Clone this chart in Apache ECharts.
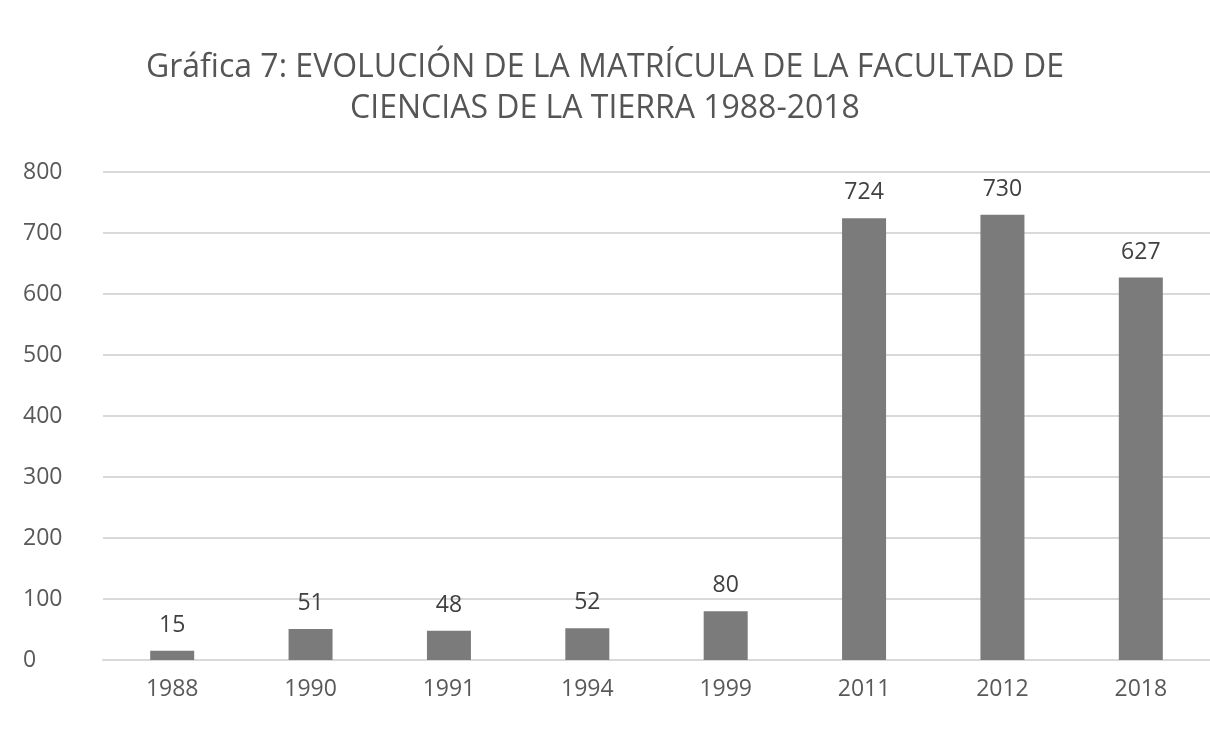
<!DOCTYPE html>
<html>
<head>
<meta charset="utf-8">
<script src="https://cdn.jsdelivr.net/npm/echarts@6/dist/echarts.min.js"></script>
<style>
  html, body { margin: 0; padding: 0; background: #fff; }
  #chart { width: 1210px; height: 731px; }
</style>
</head>
<body>
<div id="chart"></div>
<script>
// Matrícula por año
const years = ['1988', '1990', '1991', '1994', '1999', '2011', '2012', '2018']
const enrollment = [15, 51, 48, 52, 80, 724, 730, 627]
const yTicks = { min: 0, max: 800, interval: 100 }

const chart = echarts.init(document.getElementById('chart'))
const font = '"Liberation Sans Narrow", "Open Sans", sans-serif'

chart.setOption({
  animation: false,
  title: {
    text: 'Gráfica 7: EVOLUCIÓN DE LA MATRÍCULA DE LA FACULTAD DE\nCIENCIAS DE LA TIERRA 1988-2018',
    left: 'center',
    top: 42,
    textStyle: {
      fontFamily: font,
      fontSize: 32,
      fontWeight: 'normal',
      color: '#555555',
      lineHeight: 41
    }
  },
  grid: {
    left: 103,
    width: 1108,
    top: 172,
    bottom: 71
  },
  xAxis: {
    type: 'category',
    data: years,
    axisLine: { lineStyle: { color: '#d9d9d9', width: 2 } },
    axisTick: { show: false },
    axisLabel: {
      fontFamily: font,
      fontSize: 23,
      color: '#595959',
      margin: 18
    }
  },
  yAxis: {
    type: 'value',
    min: yTicks.min,
    max: yTicks.max,
    interval: yTicks.interval,
    axisLine: { show: false },
    axisTick: { show: false },
    splitLine: { lineStyle: { color: '#d9d9d9', width: 2 } },
    axisLabel: {
      fontFamily: font,
      fontSize: 23,
      color: '#595959',
      align: 'left',
      margin: 80
    }
  },
  series: [{
    type: 'bar',
    data: enrollment,
    barWidth: 44,
    itemStyle: { color: '#7b7b7b' },
    label: {
      show: true,
      position: 'top',
      distance: 14,
      fontFamily: font,
      fontSize: 23,
      color: '#404040'
    }
  }]
})
</script>
</body>
</html>
